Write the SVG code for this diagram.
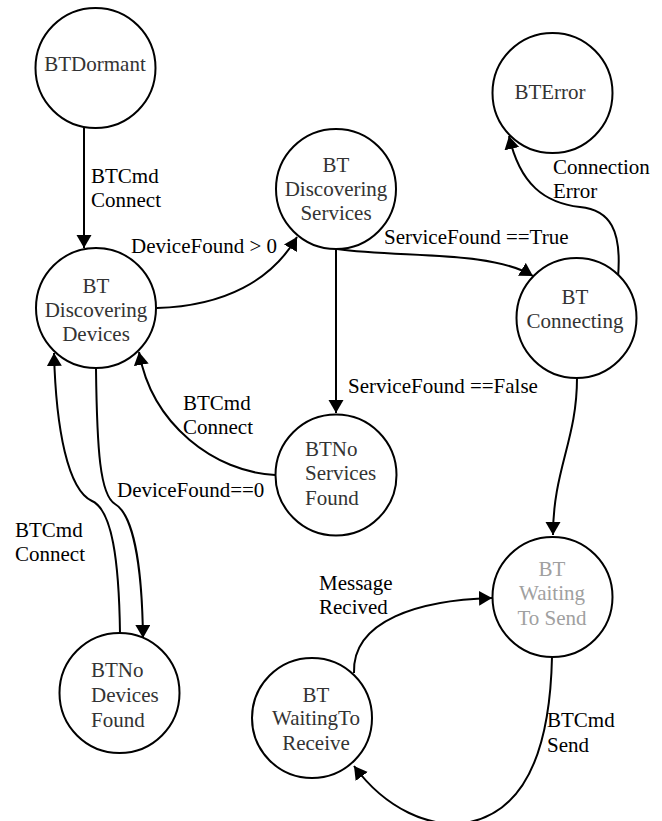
<svg xmlns="http://www.w3.org/2000/svg" width="662" height="821" viewBox="0 0 662 821" font-family="Liberation Serif" font-size="21">
<defs>
<marker id="arr" markerUnits="userSpaceOnUse" markerWidth="14" markerHeight="16" viewBox="0 0 14 16" refX="13" refY="7.5" orient="auto">
<path d="M0,0 L13,7.5 L0,15 Z" fill="#000"/>
</marker>
<style>
text{font-family:"Liberation Serif",serif;font-size:21px}
.node circle{fill:#fff;stroke:#000;stroke-width:2}
.node text{fill:#333;text-anchor:middle}
.node text.left{text-anchor:start}
.node text.grey{fill:#a0a0a0}
.edges path{fill:none;stroke:#000;stroke-width:2;marker-end:url(#arr)}
.lbl text{fill:#000}
</style>
</defs>
<rect width="662" height="821" fill="#fff"/>
<g id="connectors" class="edges">
<path d="M84,128 L84,248"/>
<path d="M157,308 C225,306 272,280 297,237"/>
<path d="M337,249 C400,258 490,250 533,276"/>
<path d="M336,249 L336,413"/>
<path d="M275,475 C215,472 152,425 139,352"/>
<path d="M96,369 C97,450 100,495 115,504 C132,514 142,560 143,638"/>
<path d="M120,633 C119,560 112,510 92,501 C68,490 56,430 54,353"/>
<path d="M618,277 C622,230 610,210 580,207 C545,203 520,185 509,136"/>
<path d="M577,378 C577,440 553,470 553,535"/>
<path d="M354,673 C352,620 420,600 492,598"/>
<path d="M552,657 C550,750 525,810 470,822 C430,830 385,808 354,766"/>
</g>
<g id="labels" class="lbl">
<text x="91" y="183">BTCmd</text><text x="91" y="207">Connect</text>
<text x="131" y="253">DeviceFound &gt; 0</text>
<text x="384" y="244">ServiceFound ==True</text>
<text x="553" y="174">Connection</text><text x="553" y="198">Error</text>
<text x="348" y="393">ServiceFound ==False</text>
<text x="183" y="410">BTCmd</text><text x="183" y="434">Connect</text>
<text x="117" y="497">DeviceFound==0</text>
<text x="15" y="537">BTCmd</text><text x="15" y="561">Connect</text>
<text x="319" y="590">Message</text><text x="319" y="614">Recived</text>
<text x="547" y="727">BTCmd</text><text x="547" y="752">Send</text>
</g>
<g id="BTDormant" class="node"><circle cx="95.5" cy="68" r="60"/><text x="95" y="71">BTDormant</text></g>
<g id="BTDiscoveringDevices" class="node"><circle cx="96" cy="308" r="60"/><text x="96" y="293">BT</text><text x="96" y="317">Discovering</text><text x="96" y="341">Devices</text></g>
<g id="BTDiscoveringServices" class="node"><circle cx="336" cy="189" r="60"/><text x="336" y="172">BT</text><text x="336" y="196">Discovering</text><text x="336" y="220">Services</text></g>
<g id="BTError" class="node"><circle cx="552.5" cy="93" r="60"/><text x="550" y="99">BTError</text></g>
<g id="BTConnecting" class="node"><circle cx="576.5" cy="318" r="60"/><text x="575" y="304">BT</text><text x="575" y="328">Connecting</text></g>
<g id="BTNoServicesFound" class="node"><circle cx="336" cy="475" r="60.5"/><text class="left" x="305" y="456">BTNo</text><text class="left" x="305" y="480">Services</text><text class="left" x="305" y="505">Found</text></g>
<g id="BTNoDevicesFound" class="node"><circle cx="119.5" cy="693" r="60"/><text class="left" x="91" y="677">BTNo</text><text class="left" x="91" y="702">Devices</text><text class="left" x="91" y="727">Found</text></g>
<g id="BTWaitingToSend" class="node"><circle cx="552.5" cy="597" r="60"/><text class="grey" x="552" y="576">BT</text><text class="grey" x="552" y="600">Waiting</text><text class="grey" x="552" y="625">To Send</text></g>
<g id="BTWaitingToReceive" class="node"><circle cx="312" cy="718" r="60"/><text x="316" y="702">BT</text><text x="316" y="725">WaitingTo</text><text x="316" y="750">Receive</text></g>
</svg>
